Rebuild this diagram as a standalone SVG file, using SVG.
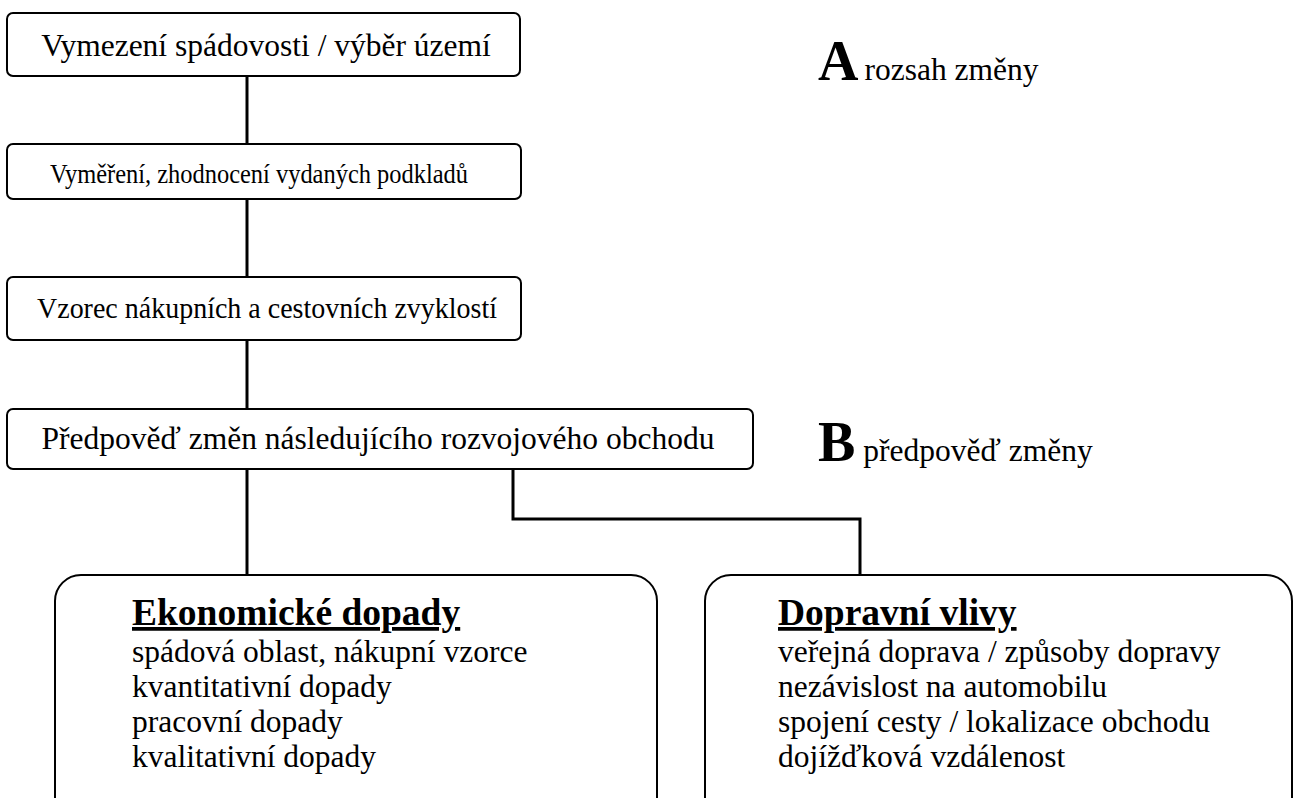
<svg xmlns="http://www.w3.org/2000/svg" width="1293" height="798" viewBox="0 0 1293 798">
<style>
.box{fill:#fff;stroke:#000;stroke-width:2}
.t{font-family:"Liberation Serif","Times New Roman",serif;font-size:31.5px;fill:#000}
.l{font-family:"Liberation Serif","Times New Roman",serif;font-size:31.5px;fill:#000}
.h{font-family:"Liberation Serif","Times New Roman",serif;font-size:37.5px;font-weight:bold;text-decoration:underline;fill:#000}
.big{font-family:"Liberation Serif","Times New Roman",serif;font-size:56px;font-weight:bold;fill:#000}
.c{fill:none;stroke:#000;stroke-width:3}
</style>
<rect width="1293" height="798" fill="#fff"/>
<g id="connectors">
<path class="c" d="M247 76V144"/>
<path class="c" d="M247 199V277"/>
<path class="c" d="M247 340V409"/>
<path class="c" d="M247 469V575"/>
<path class="c" d="M513 469V519H860V575"/>
</g>
<g id="n1"><rect class="box" x="7" y="13" width="513" height="63" rx="6"/><text class="t" x="266" y="56" text-anchor="middle">Vymezení spádovosti / výběr území</text></g>
<g id="n2"><rect class="box" x="7" y="144" width="514" height="55" rx="6"/><text class="t" x="50" y="183" style="font-size:28px" textLength="418" lengthAdjust="spacingAndGlyphs">Vyměření, zhodnocení vydaných podkladů</text></g>
<g id="n3"><rect class="box" x="7" y="277" width="514" height="63" rx="6"/><text class="t" x="37" y="318" style="font-size:29.5px" textLength="460" lengthAdjust="spacingAndGlyphs">Vzorec nákupních a cestovních zvyklostí</text></g>
<g id="n4"><rect class="box" x="7" y="409" width="746" height="60" rx="6"/><text class="t" x="378" y="449" text-anchor="middle">Předpověď změn následujícího rozvojového obchodu</text></g>
<g id="labelA"><text x="818" y="80"><tspan class="big">A</tspan><tspan class="t" dx="6">rozsah změny</tspan></text></g>
<g id="labelB"><text x="818" y="461"><tspan class="big">B</tspan><tspan class="t" dx="8">předpověď změny</tspan></text></g>
<g id="n5"><rect class="box" x="55" y="575" width="602" height="260" rx="26"/>
<text class="h" x="132" y="625">Ekonomické dopady</text>
<text class="l" x="132" y="662">spádová oblast, nákupní vzorce</text>
<text class="l" x="132" y="697">kvantitativní dopady</text>
<text class="l" x="132" y="732">pracovní dopady</text>
<text class="l" x="132" y="767">kvalitativní dopady</text></g>
<g id="n6"><rect class="box" x="705" y="575" width="587" height="260" rx="26"/>
<text class="h" x="778" y="625">Dopravní vlivy</text>
<text class="l" x="778" y="662">veřejná doprava / způsoby dopravy</text>
<text class="l" x="778" y="697">nezávislost na automobilu</text>
<text class="l" x="778" y="732">spojení cesty / lokalizace obchodu</text>
<text class="l" x="778" y="767">dojížďková vzdálenost</text></g>
</svg>
